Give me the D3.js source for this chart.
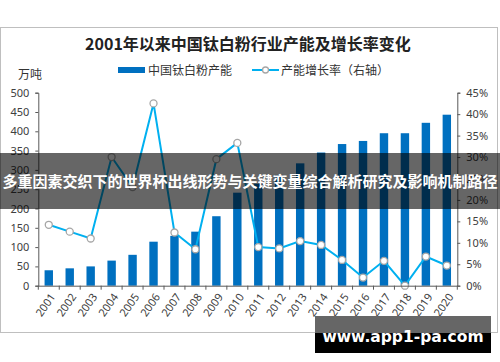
<!DOCTYPE html>
<meta charset="utf-8">
<style>
  body { margin: 0; background: #fff; }
  svg { display: block; font-family: "Noto Sans CJK SC", "Noto Sans", sans-serif; }
</style>
<svg width="500" height="362"></svg>
<script src="https://cdn.jsdelivr.net/npm/d3@7"></script>
<script>

var years = ["2001","2002","2003","2004","2005","2006","2007","2008","2009","2010",
             "2011","2012","2013","2014","2015","2016","2017","2018","2019","2020"];
// 产能（万吨）
var capacity = [40, 45, 50, 65, 80, 114, 129, 140, 180, 241,
                264, 287, 317, 345, 367, 375, 395, 395, 422, 443];
// 增长率（%）
var growth = [14.2, 12.6, 11.0, 30.0, 23.0, 42.5, 12.4, 8.5, 29.5, 33.3,
              9.0, 8.7, 10.4, 9.5, 6.0, 1.9, 5.8, 0, 6.8, 4.7];
var leftTicks = [0, 50, 100, 150, 200, 250, 300, 350, 400, 450, 500];
var rightTicks = [0, 5, 10, 15, 20, 25, 30, 35, 40, 45];

var svg = d3.select("svg");
var plotL = 38.3, plotR = 457.3, plotT = 92.7, plotB = 285.7;

// 外框
svg.append("rect").attr("x", 0.5).attr("y", 27.5).attr("width", 497).attr("height", 305)
  .attr("fill", "#fff").attr("stroke", "#bfbfbf");

svg.append("text").attr("x", 248).attr("y", 50).attr("text-anchor", "middle")
  .attr("font-size", 16).attr("font-weight", "bold").attr("fill", "#222")
  .text("2001年以来中国钛白粉行业产能及增长率变化");

var xb = d3.scaleBand().domain(years).range([plotL, plotR]);
var yL = d3.scaleLinear().domain([0, 500]).range([plotB, plotT]);
var yR = d3.scaleLinear().domain([0, 45]).range([plotB, plotT]);
var cx = function(i) { return xb(years[i]) + xb.bandwidth() / 2; };

// 图例
var lg = svg.append("g").attr("font-size", 12).attr("fill", "#333");
lg.append("rect").attr("x", 118).attr("y", 67).attr("width", 27).attr("height", 6).attr("fill", "#0070c0");
lg.append("text").attr("x", 148).attr("y", 74.5).text("中国钛白粉产能");
lg.append("line").attr("x1", 252).attr("x2", 279).attr("y1", 70).attr("y2", 70)
  .attr("stroke", "#00b0f0").attr("stroke-width", 2);
lg.append("circle").attr("cx", 265.5).attr("cy", 70).attr("r", 3)
  .attr("fill", "#fff").attr("stroke", "#a6a6a6").attr("stroke-width", 1.3);
lg.append("text").attr("x", 281).attr("y", 74.5).text("产能增长率（右轴）");

svg.append("text").attr("x", 30).attr("y", 79).attr("text-anchor", "middle")
  .attr("font-size", 12).attr("fill", "#333").text("万吨");

// 柱
svg.append("g").selectAll("rect").data(capacity).join("rect")
  .attr("x", function(d, i) { return cx(i) - 4.2; })
  .attr("width", 8.4)
  .attr("y", function(d) { return yL(d); })
  .attr("height", function(d) { return plotB - yL(d); })
  .attr("fill", "#0070c0");

// 折线
var line = d3.line()
  .x(function(d, i) { return cx(i); })
  .y(function(d) { return yR(d); });
svg.append("path").datum(growth).attr("d", line)
  .attr("fill", "none").attr("stroke", "#00b0f0").attr("stroke-width", 2);
svg.append("g").selectAll("circle").data(growth).join("circle")
  .attr("cx", function(d, i) { return cx(i); })
  .attr("cy", function(d) { return yR(d); })
  .attr("r", 3.5)
  .attr("fill", "#fff").attr("stroke", "#a6a6a6").attr("stroke-width", 1.3);

// 坐标轴
var axL = svg.append("g").attr("transform", "translate(" + plotL + ",0)")
  .call(d3.axisLeft(yL).tickValues(leftTicks).tickSize(3).tickPadding(6));
var axR = svg.append("g").attr("transform", "translate(" + plotR + ",0)")
  .call(d3.axisRight(yR).tickValues(rightTicks).tickSize(3).tickPadding(6)
    .tickFormat(function(d) { return d + "%"; }));
var axB = svg.append("g").attr("transform", "translate(0," + plotB + ")")
  .call(d3.axisBottom(xb).tickSize(0).tickPadding(0));
axB.append("g").selectAll("line").data(d3.range(years.length + 1)).join("line")
  .attr("x1", function(i) { return plotL + i * xb.step(); })
  .attr("x2", function(i) { return plotL + i * xb.step(); })
  .attr("y1", 0).attr("y2", 4).attr("stroke", "#595959");
axB.selectAll(".tick text")
  .attr("text-anchor", "end")
  .attr("y", 0)
  .attr("transform", "translate(4,9) rotate(-55)")
  .attr("dy", "0.35em");

[axL, axR, axB].forEach(function(a) {
  a.select(".domain").attr("stroke", "#595959");
  a.selectAll(".tick line").attr("stroke", "#595959");
  a.selectAll("text").attr("font-size", 11).attr("fill", "#404040")
    .attr("font-family", "'Noto Sans', sans-serif");
});

// 横幅
svg.append("rect").attr("x", 0).attr("y", 153).attr("width", 500).attr("height", 56)
  .attr("fill", "rgba(0,0,0,0.6)");
svg.append("text").attr("x", 250).attr("y", 187).attr("text-anchor", "middle")
  .attr("font-size", 15).attr("font-weight", "bold").attr("fill", "#fff")
  .text("多重因素交织下的世界杯出线形势与关键变量综合解析研究及影响机制路径");

// 水印
svg.append("rect").attr("x", 315).attr("y", 316).attr("width", 176).attr("height", 17).attr("fill", "#666");
svg.append("rect").attr("x", 315).attr("y", 333).attr("width", 176).attr("height", 20).attr("fill", "#000");
svg.append("text").attr("x", 403).attr("y", 342).attr("text-anchor", "middle")
  .attr("font-size", 15.5).attr("font-weight", "bold").attr("fill", "#fff")
  .attr("font-family", "'DejaVu Sans', sans-serif")
  .text("www.app1-pa.com");

</script>
